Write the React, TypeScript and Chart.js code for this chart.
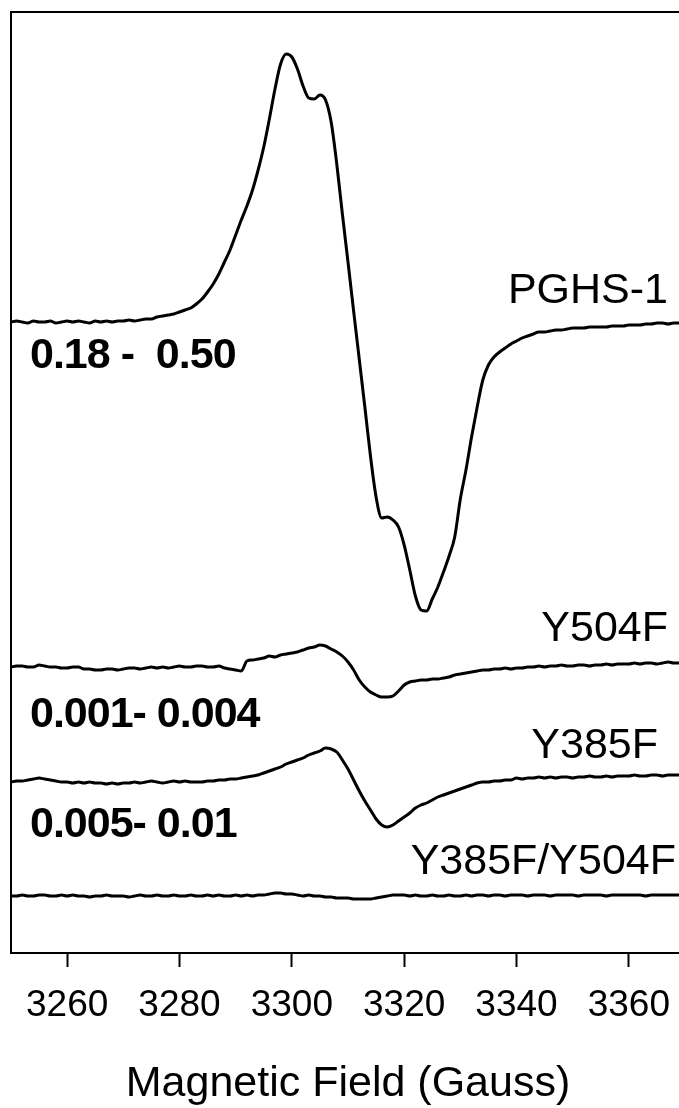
import { useEffect, useRef } from "react";
import { Chart, registerables } from "chart.js";

Chart.register(...registerables);

// Magnetic field sampling grid (Gauss)
const FIELD_START = 3250;
const FIELD_END = 3370;
const FIELD_STEP = 1;
const xTicks = [3260, 3280, 3300, 3320, 3340, 3360];

const seriesNames = ["PGHS-1", "Y504F", "Y385F", "Y385F/Y504F"];
const rangeLabels = ["0.18 -  0.50", "0.001- 0.004", "0.005- 0.01"];
// vertical offsets of each stacked spectrum (a.u.)
const offsets = [631, 286, 171, 57];

// EPR derivative signals (a.u.), one value per gauss from 3250 to 3370
const pghs1 = [
  0, 1, 0, -1, 1, 0, 0, 1, -1, 0,
  1, 0, 1, 0, -1, 1, 0, 1, 0, 1,
  1, 2, 1, 2, 3, 3, 5, 6, 7, 8,
  10, 12, 14, 18, 23, 30, 38, 48, 60, 72,
  87, 102, 116, 132, 152, 175, 203, 233, 258, 268,
  265, 253, 236, 224, 223, 227, 222, 200, 158, 108,
  60, 11, -37, -85, -134, -175, -196, -195, -198, -205,
  -223, -248, -274, -288, -289, -277, -265, -250, -234, -215,
  -177, -148, -115, -85, -58, -43, -35, -30, -26, -22,
  -19, -16, -14, -12, -10, -10, -9, -8, -8, -7,
  -6, -6, -6, -5, -5, -5, -5, -4, -4, -4,
  -3, -3, -3, -2, -2, -1, -1, -2, -1, -1,
  -1,
];

const y504f = [
  0, 1, 1, 0, 0, 2, 1, 0, 0, -1,
  -1, 0, 0, -2, -2, -3, -3, -2, -2, -3,
  -2, -1, -1, -2, -1, 0, -1, 0, -1, 0,
  1, 0, 0, 1, 1, 0, 0, 1, -1, -2,
  -3, -4, 6, 7, 8, 9, 11, 10, 12, 13,
  14, 15, 17, 19, 20, 22, 21, 18, 15, 11,
  5, -3, -13, -20, -25, -28, -30, -30, -29, -24,
  -18, -15, -14, -13, -13, -12, -12, -11, -10, -8,
  -7, -6, -5, -4, -3, -3, -2, -2, -1, -2,
  -1, -1, 0, 0, 1, 0, 1, 1, 2, 1,
  1, 2, 2, 1, 2, 2, 3, 2, 3, 3,
  3, 4, 3, 4, 4, 3, 4, 5, 4, 4,
  4,
];

const y385f = [
  0, 1, 1, 2, 3, 4, 3, 2, 1, 0,
  0, -1, 0, -1, 0, -1, -1, -2, -1, -2,
  -1, -1, 0, -1, 0, 1, 0, -1, 0, 1,
  0, 1, 0, 0, 0, 1, 1, 2, 2, 3,
  3, 4, 5, 6, 7, 9, 11, 13, 15, 18,
  20, 22, 24, 27, 29, 31, 34, 33, 30, 22,
  13, 2, -9, -19, -28, -37, -43, -45, -43, -39,
  -35, -31, -26, -23, -21, -18, -15, -13, -11, -9,
  -7, -5, -3, -1, 0, 0, 1, 1, 2, 2,
  4, 3, 4, 4, 5, 4, 5, 4, 5, 5,
  4, 5, 5, 6, 5, 5, 6, 5, 6, 6,
  6, 7, 6, 6, 7, 7, 6, 7, 7, 7,
  7,
];

const y385fY504f = [
  0, 0, 1, 0, 0, 1, 1, 0, 0, 1,
  0, 1, 0, 0, -1, 0, 0, 1, 0, 0,
  0, -1, 0, 1, 0, 0, 1, 0, 0, 1,
  0, 0, 1, 0, 0, 1, 0, 1, 0, 0,
  1, 0, 1, 0, 1, 1, 2, 3, 3, 2,
  2, 1, 0, 1, 0, 0, -1, -1, -2, -2,
  -2, -3, -3, -3, -3, -2, -1, 0, 1, 1,
  1, 0, 1, 0, 0, 1, 0, 0, 1, 0,
  0, 1, 0, 1, 1, 0, 1, 1, 0, 1,
  1, 1, 0, 1, 1, 1, 0, 1, 1, 1,
  1, 0, 1, 1, 1, 1, 0, 1, 1, 1,
  1, 1, 1, 0, 1, 1, 1, 1, 1, 1,
  1,
];

const signals = [pghs1, y504f, y385f, y385fY504f];

const FONT = "'Liberation Sans', Arial, Helvetica, sans-serif";

const annotPlugin = {
  id: "annot",
  afterDraw(chart: any) {
    const { ctx, chartArea: a } = chart;
    ctx.save();
    ctx.strokeStyle = "#000";
    ctx.lineWidth = 2;
    ctx.beginPath();
    ctx.moveTo(a.left, a.bottom);
    ctx.lineTo(a.left, a.top);
    ctx.lineTo(a.right, a.top);
    ctx.lineTo(a.right, a.bottom);
    ctx.stroke();

    ctx.fillStyle = "#000";
    ctx.textBaseline = "alphabetic";
    // series names (right aligned)
    ctx.font = `43px ${FONT}`;
    ctx.textAlign = "right";
    const namePos = [
      [668, 303],
      [668, 641],
      [658, 758],
      [676, 874],
    ];
    seriesNames.forEach((n, i) => ctx.fillText(n, namePos[i][0], namePos[i][1]));

    // concentration ranges (bold, left aligned)
    ctx.font = `bold 43px ${FONT}`;
    ctx.textAlign = "left";
    try {
      (ctx as any).letterSpacing = "-1px";
    } catch (e) {}
    const rangePos = [
      [30, 368],
      [30, 727],
      [30, 837],
    ];
    rangeLabels.forEach((t, i) => ctx.fillText(t, rangePos[i][0], rangePos[i][1]));
    ctx.restore();
  },
};

export default function App() {
  const ref = useRef<HTMLCanvasElement | null>(null);

  useEffect(() => {
    if (!ref.current) return;
    const fields: number[] = [];
    for (let g = FIELD_START; g <= FIELD_END; g += FIELD_STEP) fields.push(g);

    const datasets = signals.map((sig, i) => ({
      label: seriesNames[i],
      data: sig.map((v, k) => ({ x: fields[k], y: offsets[i] + v })),
      borderColor: "#000",
      borderWidth: 3,
      pointRadius: 0,
      fill: false,
      cubicInterpolationMode: "monotone" as const,
    }));

    const chart = new Chart(ref.current, {
      type: "line",
      data: { datasets },
      plugins: [annotPlugin],
      options: {
        responsive: false,
        animation: false,
        devicePixelRatio: 1,
        layout: { padding: { left: 11, top: 12, right: 15, bottom: 0 } },
        plugins: { legend: { display: false }, tooltip: { enabled: false } },
        scales: {
          x: {
            type: "linear",
            min: FIELD_START,
            max: FIELD_END,
            afterBuildTicks: (s: any) => {
              s.ticks = xTicks.map((v) => ({ value: v }));
            },
            afterFit: (s: any) => {
              s.height = 167;
            },
            grid: {
              display: true,
              drawOnChartArea: false,
              drawTicks: true,
              tickLength: 14,
              tickWidth: 2,
              tickColor: "#000",
            },
            border: { display: true, color: "#000", width: 2 },
            ticks: {
              color: "#000",
              font: { family: FONT, size: 37 },
              padding: 17,
              maxRotation: 0,
              autoSkip: false,
              callback: (v: any) => String(v),
            },
            title: {
              display: true,
              text: "Magnetic Field (Gauss)",
              color: "#000",
              font: { family: FONT, size: 43 },
              padding: { top: 0, bottom: 10 },
            },
          },
          y: { display: false, min: 0, max: 941 },
        },
      },
    });
    return () => chart.destroy();
  }, []);

  return (
    <div
      style={{
        position: "absolute",
        left: 0,
        top: 0,
        width: 679,
        height: 1108,
        overflow: "hidden",
        background: "#fff",
      }}
    >
      <canvas ref={ref} width={700} height={1120} style={{ width: 700, height: 1120, display: "block" }} />
    </div>
  );
}
